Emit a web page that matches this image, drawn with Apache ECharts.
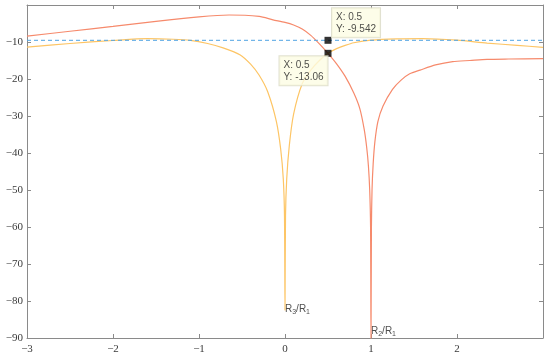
<!DOCTYPE html>
<html lang="en">
<head>
    <meta charset="utf-8" />
    <title>notch response</title>
    <script src="https://cdn.jsdelivr.net/npm/echarts@6/dist/echarts.min.js"></script>
</head>
<body style="margin:0;background:#fff;">
    <div id="main" style="width: 550px;height:361px;"></div>
    <script type="text/javascript">

        // curve values
        var orangeX = [-3, -2.5, -2, -1.5, -1, -0.65, -0.3, -0.14, 0, 0.1, 0.2, 0.3, 0.4, 0.5, 0.6, 0.7, 0.8, 0.87, 0.92, 0.95, 0.97, 0.985, 0.995, 1,
            1.005, 1.012, 1.025, 1.045, 1.08, 1.14, 1.25, 1.35, 1.45, 1.57, 1.75, 1.95, 2.15, 2.35, 2.6, 3];
        var orangeY = [-8.4, -7.1, -5.8, -4.4, -3.2, -2.7, -3.1, -4.0, -4.7, -5.4, -6.5, -8.2, -10.5, -13.06, -15.9, -19.3, -23.8, -28, -33.5, -38.5, -43.5, -50, -60, -90.5,
            -60, -50, -43, -37, -31.5, -27.3, -22.8, -20.3, -18.6, -17.6, -16.2, -15.3, -15, -14.7, -14.6, -14.5];

        var yellowX = [-3, -2.5, -2, -1.6, -1.3, -1.1, -0.9, -0.72, -0.52, -0.4, -0.3, -0.2, -0.1, -0.05, -0.02, -0.006, 0,
            0.006, 0.02, 0.05, 0.1, 0.2, 0.3, 0.4, 0.5, 0.6, 0.7, 0.8, 1, 1.3, 1.6, 2, 2.35, 2.7, 3];
        var yellowY = [-11.4, -10.4, -9.6, -9.1, -9.25, -9.55, -10.4, -11.6, -13.5, -16, -19, -23.5, -31.5, -39, -47, -57, -82.5,
            -57, -47, -38, -29.5, -21.3, -17.6, -15, -13.06, -11.8, -10.9, -10.2, -9.5, -9.15, -9.08, -9.5, -10.3, -10.9, -11.45];

        var refX = [-3, 3];
        var refY = [-9.542, -9.542];

        // data tips
        var tipX = [0.5, 0.5];
        var tipY = [-9.542, -13.06];

        // notch annotations
        var noteX = [0, 1];
        var noteY = [-82.2, -88.1];
        var noteText = ['{n|R}{s|3}{n|/R}{s|1}', '{n|R}{s|2}{n|/R}{s|1}'];

        var xTicks = { min: -3, max: 3, interval: 1 };
        var yTicks = { min: -90, max: 0, interval: 10 };

        function pairs(xs, ys) {
            return xs.map(function (x, i) { return [x, ys[i]]; });
        }
        function minus(v) {
            return String(v).replace('-', '\u2212');
        }

        var axisGray = '#8a8a8a';
        var tickFont = { fontFamily: 'Liberation Serif', fontSize: 11, color: '#3a3a3a' };

        var myChart = echarts.init(document.getElementById('main'));

        var option = {
            animation: false,
            backgroundColor: '#fff',
            grid: { left: 27, right: 7, top: 5, bottom: 23 },
            xAxis: [{
                type: 'value', min: xTicks.min, max: xTicks.max, interval: xTicks.interval,
                position: 'bottom',
                axisLine: { onZero: false, lineStyle: { color: axisGray } },
                axisTick: { inside: true, length: 4, lineStyle: { color: axisGray } },
                axisLabel: Object.assign({ showMaxLabel: false, margin: 6, formatter: minus }, tickFont),
                splitLine: { show: false }
            }, {
                type: 'value', min: xTicks.min, max: xTicks.max, interval: xTicks.interval,
                position: 'top',
                axisLine: { onZero: false, lineStyle: { color: axisGray } },
                axisTick: { inside: true, length: 4, lineStyle: { color: axisGray } },
                axisLabel: { show: false },
                splitLine: { show: false }
            }],
            yAxis: [{
                type: 'value', min: yTicks.min, max: yTicks.max, interval: yTicks.interval,
                position: 'left',
                axisLine: { show: true, onZero: false, lineStyle: { color: axisGray } },
                axisTick: { show: true, inside: true, length: 4, lineStyle: { color: axisGray } },
                axisLabel: Object.assign({ showMaxLabel: false, margin: 4, formatter: minus }, tickFont),
                splitLine: { show: false }
            }, {
                type: 'value', min: yTicks.min, max: yTicks.max, interval: yTicks.interval,
                position: 'right',
                axisLine: { show: true, onZero: false, lineStyle: { color: axisGray } },
                axisTick: { show: true, inside: true, length: 4, lineStyle: { color: axisGray } },
                axisLabel: { show: false },
                splitLine: { show: false }
            }],
            series: [{
                type: 'line',
                data: pairs(orangeX, orangeY),
                showSymbol: false,
                smooth: 0.25,
                lineStyle: { color: '#f68a6c', width: 1.2 }
            }, {
                type: 'line',
                data: pairs(yellowX, yellowY),
                showSymbol: false,
                smooth: 0.25,
                lineStyle: { color: '#fdc565', width: 1.2 }
            }, {
                type: 'line',
                data: pairs(refX, refY),
                showSymbol: false,
                lineStyle: { color: '#4fa3e3', width: 1, type: [4, 3] }
            }, {
                type: 'scatter',
                data: pairs(tipX, tipY),
                symbol: 'rect',
                symbolSize: 7,
                itemStyle: { color: '#000' },
                z: 5,
                label: {
                    show: true,
                    fontFamily: 'Liberation Sans',
                    fontSize: 10,
                    lineHeight: 12,
                    color: '#222',
                    backgroundColor: '#fdfde4',
                    borderColor: '#d9d9c4',
                    borderWidth: 1,
                    padding: [3, 4, 2, 4],
                    formatter: function (p) {
                        return 'X: ' + p.value[0] + '\nY: ' + p.value[1];
                    }
                },
                labelLayout: function (params) {
                    // upper tip goes up-right, lower tip goes down-left
                    if (params.dataIndex === 0) {
                        return { x: params.rect.x + 7.5, y: params.rect.y - 28.5, align: 'left', verticalAlign: 'top' };
                    }
                    return { x: params.rect.x - 45, y: params.rect.y + 6.5, align: 'left', verticalAlign: 'top' };
                }
            }, {
                type: 'scatter',
                data: pairs(noteX, noteY),
                symbolSize: 0,
                silent: true,
                label: {
                    show: true,
                    position: 'inside',
                    align: 'left',
                    verticalAlign: 'middle',
                    formatter: function (p) { return noteText[p.dataIndex]; },
                    rich: {
                        n: { fontFamily: 'Liberation Sans', fontSize: 10, color: '#222' },
                        s: { fontFamily: 'Liberation Sans', fontSize: 7, color: '#222', padding: [6, 0, 0, 0] }
                    }
                }
            }]
        };

        myChart.setOption(option);

    </script>
</body>
</html>
